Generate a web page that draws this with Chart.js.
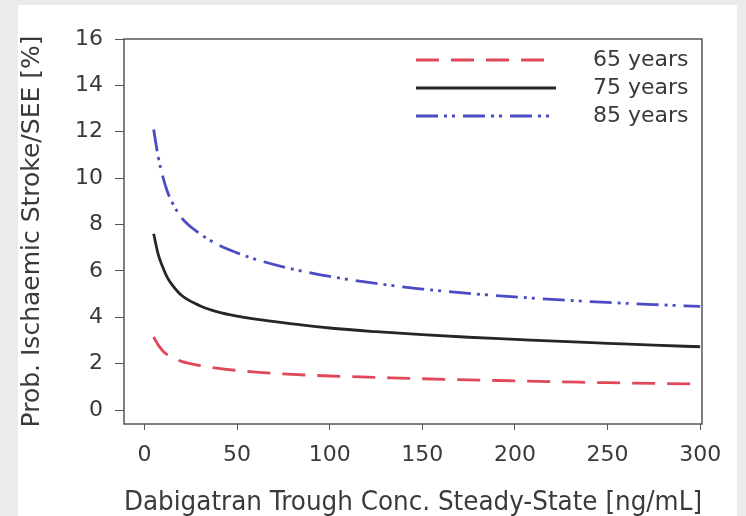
<!DOCTYPE html>
<html>
<head>
<meta charset="utf-8">
<script src="https://cdn.jsdelivr.net/npm/chart.js@4"></script>
<style>
  html, body { margin: 0; padding: 0; background: #ebebeb; }
  canvas { display: block; }
</style>
</head>
<body>
<canvas id="riskChart" width="746" height="516"></canvas>
<script>
// Trough concentration (ng/mL) and predicted probability (%) per age group
const concentration = [5, 7.5, 10, 12.5, 15, 20, 30, 40, 50, 60, 80, 100, 125, 150, 175, 200, 225, 250, 275, 300];
const age65 = [3.15, 2.8, 2.55, 2.38, 2.27, 2.1, 1.92, 1.8, 1.71, 1.64, 1.54, 1.47, 1.41, 1.35, 1.3, 1.26, 1.22, 1.18, 1.15, 1.12];
const age75 = [7.6, 6.7, 6.15, 5.7, 5.4, 4.95, 4.5, 4.22, 4.05, 3.92, 3.72, 3.54, 3.38, 3.25, 3.14, 3.05, 2.96, 2.88, 2.8, 2.73];
const age85 = [12.1, 10.9, 10.05, 9.4, 8.95, 8.3, 7.6, 7.12, 6.78, 6.5, 6.08, 5.76, 5.46, 5.22, 5.03, 4.88, 4.75, 4.64, 4.55, 4.47];
const seriesLabels = ['65 years', '75 years', '85 years'];
const xTicks = [0, 50, 100, 150, 200, 250, 300];
const yTicks = [0, 2, 4, 6, 8, 10, 12, 14, 16];

const textColor = '#3a3a3a';
const axisColor = '#555555';

function toPoints(values) {
    return concentration.map((c, i) => ({ x: c, y: values[i] }));
}

// Grey page with a white panel behind the figure
const pagePanel = {
    id: 'pagePanel',
    beforeDraw(chart) {
        const ctx = chart.ctx;
        ctx.save();
        ctx.fillStyle = '#ebebeb';
        ctx.fillRect(0, 0, chart.width, chart.height);
        ctx.fillStyle = '#ffffff';
        ctx.fillRect(18, 5, 719, 511);
        ctx.restore();
    }
};

// Box round the plotting area
const plotBox = {
    id: 'plotBox',
    afterDatasetsDraw(chart) {
        const a = chart.chartArea;
        const ctx = chart.ctx;
        ctx.save();
        ctx.strokeStyle = axisColor;
        ctx.lineWidth = 1.5;
        ctx.strokeRect(a.left, a.top, a.right - a.left, a.bottom - a.top);
        ctx.restore();
    }
};

// Legend drawn inside the top right corner of the plot
const insideLegend = {
    id: 'insideLegend',
    afterDraw(chart) {
        const ctx = chart.ctx;
        const rows = [60, 88, 116];
        ctx.save();
        chart.data.datasets.forEach((ds, i) => {
            const y = rows[i];
            ctx.beginPath();
            ctx.strokeStyle = ds.borderColor;
            ctx.lineWidth = ds.borderWidth;
            ctx.setLineDash(ds.borderDash || []);
            ctx.moveTo(416, y);
            ctx.lineTo(556, y);
            ctx.stroke();
            ctx.setLineDash([]);
            ctx.fillStyle = textColor;
            ctx.font = '22px "DejaVu Sans"';
            ctx.textAlign = 'left';
            ctx.textBaseline = 'middle';
            ctx.fillText(ds.label, 593, y);
        });
        ctx.restore();
    }
};

Chart.defaults.font.family = '"DejaVu Sans", sans-serif';
Chart.defaults.color = textColor;

const ctx = document.getElementById('riskChart').getContext('2d');
new Chart(ctx, {
    type: 'line',
    data: {
        datasets: [
            {
                label: seriesLabels[0],
                data: toPoints(age65),
                borderColor: '#e0485a',
                borderWidth: 2.8,
                borderDash: [23, 12]
            },
            {
                label: seriesLabels[1],
                data: toPoints(age75),
                borderColor: '#262626',
                borderWidth: 2.8
            },
            {
                label: seriesLabels[2],
                data: toPoints(age85),
                borderColor: '#4b4bc4',
                borderWidth: 2.8,
                borderDash: [22, 6, 3, 5, 3, 8]
            }
        ]
    },
    options: {
        responsive: false,
        animation: false,
        layout: { padding: { top: 39, right: 44, left: 0, bottom: 0 } },
        elements: {
            point: { radius: 0 },
            line: { tension: 0.4, cubicInterpolationMode: 'monotone', fill: false }
        },
        plugins: {
            legend: { display: false },
            tooltip: { enabled: false }
        },
        scales: {
            x: {
                type: 'linear',
                min: -11,
                max: 301,
                afterBuildTicks: scale => { scale.ticks = xTicks.map(v => ({ value: v })); },
                afterFit: scale => { scale.height = 92; },
                grid: { display: true, drawOnChartArea: false, drawTicks: true, tickLength: 6, color: axisColor },
                border: { display: false },
                ticks: { font: { size: 22 }, padding: 12, color: textColor, maxRotation: 0 },
                title: {
                    display: true,
                    text: 'Dabigatran Trough Conc. Steady-State [ng/mL]',
                    font: { size: 27 },
                    color: textColor,
                    padding: { top: 0, bottom: -3 }
                }
            },
            y: {
                type: 'linear',
                min: -0.6,
                max: 16,
                afterBuildTicks: scale => { scale.ticks = yTicks.map(v => ({ value: v })); },
                afterFit: scale => { scale.width = 124; },
                grid: { display: true, drawOnChartArea: false, drawTicks: true, tickLength: 9, color: axisColor },
                border: { display: false },
                ticks: { font: { size: 22 }, padding: 12, color: textColor },
                title: {
                    display: true,
                    text: 'Prob. Ischaemic Stroke/SEE [%]',
                    font: { size: 25 },
                    color: textColor,
                    padding: { top: 17, bottom: 0 }
                }
            }
        }
    },
    plugins: [pagePanel, plotBox, insideLegend]
});
</script>
</body>
</html>
